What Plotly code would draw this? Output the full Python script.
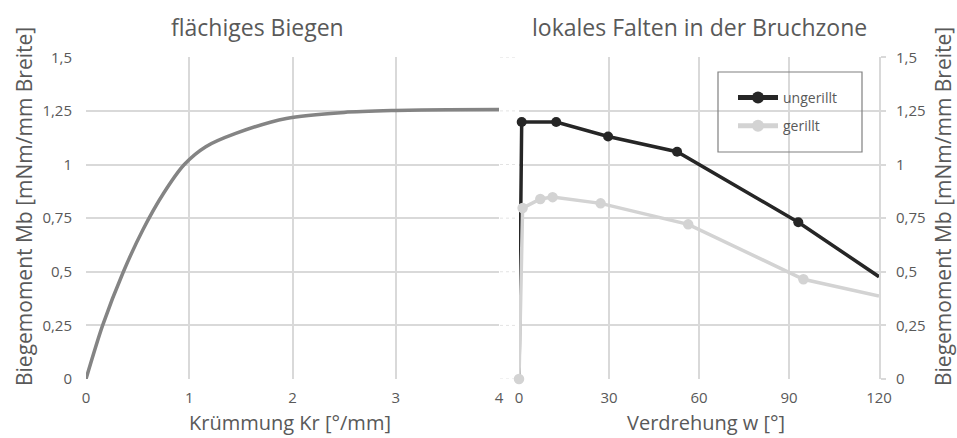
import plotly.graph_objects as go

# ---- data ----
kr = [0, 0.161, 0.362, 0.55, 0.75, 0.952, 1.16, 1.45, 1.94, 2.5, 3.0, 3.5, 4.0]
mb_biegen = [0, 0.25, 0.5, 0.695, 0.865, 1.0, 1.083, 1.145, 1.215, 1.243, 1.252, 1.256, 1.257]

w_ungerillt = [0, 0.9, 12.4, 29.7, 52.7, 93.1, 120]
mb_ungerillt = [0, 1.198, 1.198, 1.131, 1.060, 0.731, 0.477]

w_gerillt = [0, 1.2, 7.1, 11.2, 27.2, 56.4, 94.8, 120]
mb_gerillt = [0, 0.797, 0.839, 0.848, 0.819, 0.721, 0.465, 0.387]

y_tickvals = [0, 0.25, 0.5, 0.75, 1, 1.25, 1.5]
y_ticktext = ["0", "0,25", "0,5", "0,75", "1", "1,25", "1,5"]
x1_ticks = [0, 1, 2, 3, 4]
x2_ticks = [0, 30, 60, 90, 120]

FONT = "Open Sans"
TXT = "#595959"
GRID = "#d9d9d9"
W, H = 957, 438


def marker_sizes(values, size, hide_first=False):
    # the last point sits on the plot edge, where the reference line is cut without a marker
    s = [size] * len(values)
    s[-1] = 0
    if hide_first:
        s[0] = 0
    return s


fig = go.Figure()
fig.add_trace(go.Scatter(x=kr, y=mb_biegen, mode="lines",
                         line=dict(color="#848484", width=3.5, shape="spline", smoothing=0.8),
                         xaxis="x", yaxis="y", showlegend=False, hoverinfo="skip"))
fig.add_trace(go.Scatter(x=w_ungerillt, y=mb_ungerillt, mode="lines+markers", name="ungerillt",
                         line=dict(color="#262626", width=3.5),
                         marker=dict(color="#262626", size=marker_sizes(w_ungerillt, 10, hide_first=True),
                                     opacity=1, line=dict(width=0)),
                         xaxis="x2", yaxis="y2", legendgroup="a", cliponaxis=False))
fig.add_trace(go.Scatter(x=w_gerillt, y=mb_gerillt, mode="lines+markers", name="gerillt",
                         line=dict(color="#d3d3d3", width=3.5),
                         marker=dict(color="#d3d3d3", size=marker_sizes(w_gerillt, 10.5),
                                     opacity=1, line=dict(width=0)),
                         xaxis="x2", yaxis="y2", legendgroup="b", cliponaxis=False))


def px(x):
    return x / W


def py(y):
    return (H - y) / H


xd1 = [px(86), px(499)]
xd2 = [px(519), px(879)]
yd = [py(379), py(57.3)]

tickfont = dict(family=FONT, size=15, color=TXT)
common_x = dict(showgrid=True, gridcolor=GRID, gridwidth=2, zeroline=False, showline=False, automargin=False,
                ticks="", tickfont=tickfont, fixedrange=True, ticklabelstandoff=8)

fig.update_layout(
    width=W, height=H,
    margin=dict(l=0, r=0, t=0, b=0, pad=0, autoexpand=False),
    paper_bgcolor="white", plot_bgcolor="white",
    xaxis=dict(domain=xd1, range=[0, 4], tickvals=x1_ticks, anchor="y", **common_x),
    yaxis=dict(domain=yd, range=[0, 1.5], tickvals=y_tickvals, ticktext=y_ticktext, anchor="x", automargin=False,
               showgrid=True, gridcolor=GRID, gridwidth=2, zeroline=False, showline=False,
               ticks="", tickfont=tickfont, ticklabelstandoff=13),
    xaxis2=dict(domain=xd2, range=[0, 120], tickvals=x2_ticks, anchor="y2", **common_x),
    yaxis2=dict(domain=yd, range=[0, 1.5], tickvals=y_tickvals, ticktext=y_ticktext, anchor="x2", side="right",
                automargin=False,
                showgrid=True, gridcolor=GRID, gridwidth=2, zeroline=False, showline=True, linecolor=GRID, linewidth=2,
                ticks="outside", ticklen=5, tickcolor=GRID, tickwidth=2, tickfont=tickfont, ticklabelstandoff=7),
    legend=dict(x=px(733), y=py(82), xanchor="left", yanchor="top", bgcolor="rgba(0,0,0,0)",
                font=dict(family=FONT, size=14, color=TXT), tracegroupgap=7, itemwidth=40,
                itemsizing="constant"),
    showlegend=True,
)

fig.add_shape(type="rect", xref="paper", yref="paper", x0=px(718), x1=px(862), y0=py(152), y1=py(72),
              line=dict(color="#808080", width=1.2), fillcolor="rgba(0,0,0,0)")

# faint dotted connectors between the two panels at each horizontal gridline
for v in y_tickvals:
    fig.add_shape(type="line", xref="paper", yref="y", x0=px(500), x1=px(518), y0=v, y1=v,
                  line=dict(color="#e3e3e3", width=1, dash="dot"), layer="below")

ann = dict(xref="paper", yref="paper", showarrow=False, xanchor="center", yanchor="middle")
fig.add_annotation(text="flächiges Biegen", x=px(257), y=py(27), font=dict(family=FONT, size=23, color=TXT), **ann)
fig.add_annotation(text="lokales Falten in der Bruchzone", x=px(699), y=py(27), font=dict(family=FONT, size=23, color=TXT), **ann)
bot = dict(xref="paper", yref="paper", showarrow=False, xanchor="center", yanchor="bottom")
fig.add_annotation(text="Krümmung Kr [°/mm]", x=px(290), y=0, font=dict(family=FONT, size=20, color=TXT), **bot)
fig.add_annotation(text="Verdrehung w [°]", x=px(706), y=0, font=dict(family=FONT, size=20, color=TXT), **bot)
fig.add_annotation(text="Biegemoment Mb [mNm/mm Breite]", x=px(24), y=py(207), textangle=-90,
                   font=dict(family=FONT, size=21, color=TXT), **ann)
fig.add_annotation(text="Biegemoment Mb [mNm/mm Breite]", x=px(943), y=py(207), textangle=-90,
                   font=dict(family=FONT, size=21, color=TXT), **ann)

fig.write_html("out.html")
